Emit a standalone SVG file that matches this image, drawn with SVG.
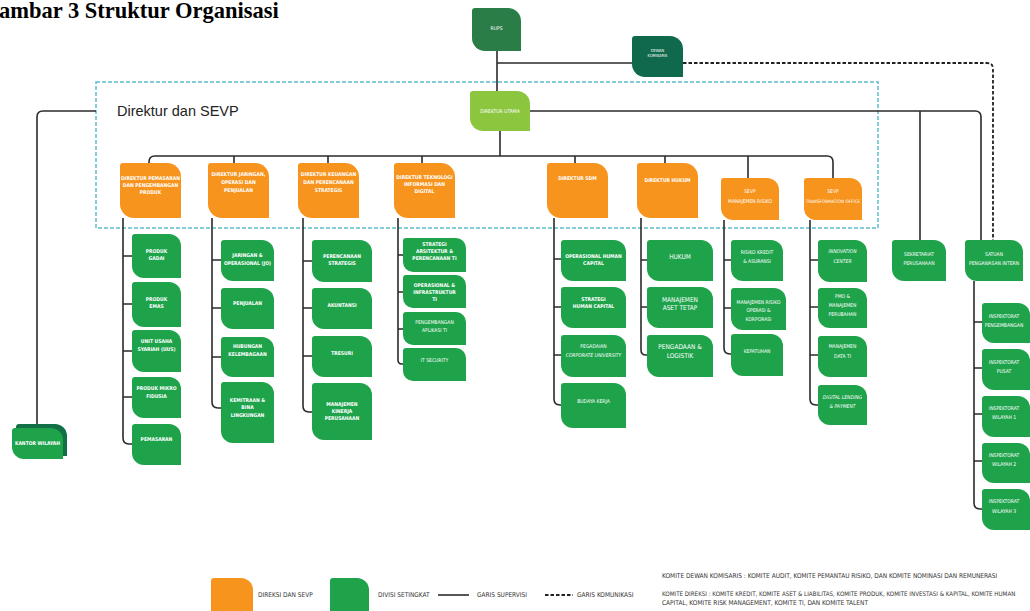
<svg xmlns="http://www.w3.org/2000/svg" width="1030" height="611" viewBox="0 0 1030 611">
<style>
.t{font-family:"Liberation Sans Narrow","DejaVu Sans Condensed","Liberation Sans",sans-serif;font-weight:bold;font-size:5px;fill:#fff;text-anchor:middle}
.n{font-weight:normal}
.i{font-style:italic;font-weight:normal}
.or{fill:#f7941d}
.gr{fill:#1ea34b}
.ln{fill:none;stroke:#2b2b2b;stroke-width:1.6}
.ds{fill:none;stroke:#222;stroke-width:1.8;stroke-dasharray:3.5 2}
.lg{font-family:"Liberation Sans Narrow","DejaVu Sans Condensed","Liberation Sans",sans-serif;font-size:6.5px;fill:#333}
</style>
<rect width="1030" height="611" fill="#fff"/>
<text x="-1" y="18" font-family="Liberation Serif" font-weight="bold" font-size="22.5" fill="#000">ambar 3 Struktur Organisasi</text>
<rect x="96" y="82" width="782" height="146" fill="none" stroke="#5bbccb" stroke-width="1.5" stroke-dasharray="4 2"/>
<text x="117" y="116" font-family="Liberation Sans" font-size="14.5" fill="#222">Direktur dan SEVP</text>

<g id="connectors">
<path class="ln" d="M497,51 V91 M497,63 H632"/>
<path class="ds" d="M683,63 H987 Q993,63 993,69 V240"/>
<path class="ln" d="M530,111 H975 Q981,111 981,117 V240 M920,111 V240"/>
<path class="ln" d="M96,111 H43 Q37,111 37,117 V428"/>
<path class="ln" d="M500,131 V156 M149,163 V162 Q149,156 155,156 H827 Q833,156 833,162 V178 M234,156 V163 M328,156 V163 M422,156 V163 M575,156 V163 M665,156 V163 M748,156 V178"/>
<path class="ln" d="M123,218 V438 Q123,444 129,444 H132 M123,256 H132 M123,304 H132 M123,351 H132 M123,397 H132"/>
<path class="ln" d="M212,218 V402 Q212,408 218,408 H221 M212,260 H221 M212,308 H221 M212,357 H221"/>
<path class="ln" d="M303,218 V406 Q303,412 309,412 H312 M303,261 H312 M303,308 H312 M303,356 H312"/>
<path class="ln" d="M398,218 V360 Q398,364 402,364 H403 M398,255 H403 M398,292 H403 M398,329 H403"/>
<path class="ln" d="M554,218 V399 Q554,405 560,405 H561 M554,259 H561 M554,307 H561 M554,355 H561"/>
<path class="ln" d="M641,218 V350 Q641,355 646,355 H647 M641,260 H647 M641,307 H647"/>
<path class="ln" d="M724,220 V348 Q724,354 730,354 H731 M724,260 H731 M724,308 H731"/>
<path class="ln" d="M810,220 V399 Q810,405 816,405 H818 M810,260 H818 M810,307 H818 M810,355 H818"/>
<path class="ln" d="M974,281 V503 Q974,509 980,509 H982 M974,322 H982 M974,368 H982 M974,414 H982 M974,461 H982"/>
</g>

<g id="rups" transform="translate(472,8)"><path fill="#2b7d47" d="M3,0 H36 A13,13 0 0 1 49,13 V43 H13 A13,13 0 0 1 0,30 V3 Q0,0 3,0 Z"/><text class="t n" x="24.5" y="22" style="font-size:5px">RUPS</text></g>
<g id="dewan-komisaris" transform="translate(632,36)"><path fill="#10684d" d="M3,0 H38 A13,13 0 0 1 51,13 V41 H13 A13,13 0 0 1 0,28 V3 Q0,0 3,0 Z"/><text class="t n" x="25.5" y="16" style="font-size:4px">DEWAN</text><text class="t n" x="25.5" y="21" style="font-size:4px">KOMISARIS</text></g>
<g id="direktur-utama" transform="translate(470,91)"><path fill="#8cc63f" d="M3,0 H47 A13,13 0 0 1 60,13 V40 H13 A13,13 0 0 1 0,27 V3 Q0,0 3,0 Z"/><text class="t n" x="30" y="22">DIREKTUR UTAMA</text></g>

<g id="dir-pemasaran" transform="translate(120,163)"><path class="or" d="M3,0 H47 A14,14 0 0 1 61,14 V55 H14 A14,14 0 0 1 0,41 V3 Q0,0 3,0 Z"/><text class="t" x="30.5" y="17">DIREKTUR PEMASARAN</text><text class="t" x="30.5" y="24">DAN PENGEMBANGAN</text><text class="t" x="30.5" y="31">PRODUK</text></g>
<g id="dir-jaringan" transform="translate(208,163)"><path class="or" d="M3,0 H47 A14,14 0 0 1 61,14 V55 H14 A14,14 0 0 1 0,41 V3 Q0,0 3,0 Z"/><text class="t" x="30.5" y="13">DIREKTUR JARINGAN,</text><text class="t" x="30.5" y="21">OPERASI DAN</text><text class="t" x="30.5" y="29">PENJUALAN</text></g>
<g id="dir-keuangan" transform="translate(298,163)"><path class="or" d="M3,0 H47 A14,14 0 0 1 61,14 V55 H14 A14,14 0 0 1 0,41 V3 Q0,0 3,0 Z"/><text class="t" x="30.5" y="13">DIREKTUR KEUANGAN</text><text class="t" x="30.5" y="21">DAN PERENCANAAN</text><text class="t" x="30.5" y="29">STRATEGIS</text></g>
<g id="dir-ti" transform="translate(394,163)"><path class="or" d="M3,0 H47 A14,14 0 0 1 61,14 V55 H14 A14,14 0 0 1 0,41 V3 Q0,0 3,0 Z"/><text class="t" x="30.5" y="16">DIREKTUR TEKNOLOGI</text><text class="t" x="30.5" y="23">INFORMASI DAN</text><text class="t" x="30.5" y="30">DIGITAL</text></g>
<g id="dir-sdm" transform="translate(547,163)"><path class="or" d="M3,0 H47 A14,14 0 0 1 61,14 V55 H14 A14,14 0 0 1 0,41 V3 Q0,0 3,0 Z"/><text class="t" x="30.5" y="17">DIREKTUR SDM</text></g>
<g id="dir-hukum" transform="translate(637,163)"><path class="or" d="M3,0 H47 A14,14 0 0 1 61,14 V55 H14 A14,14 0 0 1 0,41 V3 Q0,0 3,0 Z"/><text class="t" x="30.5" y="19">DIREKTUR HUKUM</text></g>
<g id="sevp-mr" transform="translate(721,178)"><path class="or" d="M3,0 H46 A12,12 0 0 1 58,12 V42 H12 A12,12 0 0 1 0,30 V3 Q0,0 3,0 Z"/><text class="t n" x="29" y="15">SEVP</text><text class="t n" x="29" y="25">MANAJEMEN RISIKO</text></g>
<g id="sevp-to" transform="translate(804,178)"><path class="or" d="M3,0 H46 A12,12 0 0 1 58,12 V42 H12 A12,12 0 0 1 0,30 V3 Q0,0 3,0 Z"/><text class="t n" x="29" y="15">SEVP</text><text class="t n" x="29" y="25" style="font-size:4.6px">TRANSFORMATION OFFICE</text></g>

<g id="produk-gadai" transform="translate(132,234)"><path class="gr" d="M3,0 H37 A12,12 0 0 1 49,12 V44 H12 A12,12 0 0 1 0,32 V3 Q0,0 3,0 Z"/><text class="t" x="24.5" y="19">PRODUK</text><text class="t" x="24.5" y="26">GADAI</text></g>
<g id="produk-emas" transform="translate(132,282)"><path class="gr" d="M3,0 H37 A12,12 0 0 1 49,12 V45 H12 A12,12 0 0 1 0,33 V3 Q0,0 3,0 Z"/><text class="t" x="24.5" y="19">PRODUK</text><text class="t" x="24.5" y="26">EMAS</text></g>
<g id="uus" transform="translate(132,330)"><path class="gr" d="M3,0 H37 A12,12 0 0 1 49,12 V42 H12 A12,12 0 0 1 0,30 V3 Q0,0 3,0 Z"/><text class="t" x="24.5" y="13">UNIT USAHA</text><text class="t" x="24.5" y="21">SYARIAH (UUS)</text></g>
<g id="mikro-fidusia" transform="translate(132,377)"><path class="gr" d="M3,0 H37 A12,12 0 0 1 49,12 V41 H12 A12,12 0 0 1 0,29 V3 Q0,0 3,0 Z"/><text class="t" x="24.5" y="13">PRODUK MIKRO</text><text class="t" x="24.5" y="21">FIDUSIA</text></g>
<g id="pemasaran" transform="translate(132,424)"><path class="gr" d="M3,0 H37 A12,12 0 0 1 49,12 V41 H12 A12,12 0 0 1 0,29 V3 Q0,0 3,0 Z"/><text class="t" x="24.5" y="17">PEMASARAN</text></g>

<g id="jaringan-jo" transform="translate(221,240)"><path class="gr" d="M3,0 H41 A12,12 0 0 1 53,12 V41 H12 A12,12 0 0 1 0,29 V3 Q0,0 3,0 Z"/><text class="t" x="26.5" y="17">JARINGAN &amp;</text><text class="t" x="26.5" y="25">OPERASIONAL (JO)</text></g>
<g id="penjualan" transform="translate(221,288)"><path class="gr" d="M3,0 H41 A12,12 0 0 1 53,12 V41 H12 A12,12 0 0 1 0,29 V3 Q0,0 3,0 Z"/><text class="t" x="26.5" y="17">PENJUALAN</text></g>
<g id="hub-kelembagaan" transform="translate(221,337)"><path class="gr" d="M3,0 H41 A12,12 0 0 1 53,12 V40 H12 A12,12 0 0 1 0,28 V3 Q0,0 3,0 Z"/><text class="t" x="26.5" y="11">HUBUNGAN</text><text class="t" x="26.5" y="19">KELEMBAGAAN</text></g>
<g id="kemitraan" transform="translate(221,382)"><path class="gr" d="M3,0 H41 A12,12 0 0 1 53,12 V61 H12 A12,12 0 0 1 0,49 V3 Q0,0 3,0 Z"/><text class="t" x="26.5" y="20">KEMITRAAN &amp;</text><text class="t" x="26.5" y="27">BINA</text><text class="t" x="26.5" y="35">LINGKUNGAN</text></g>

<g id="perencanaan-strategis" transform="translate(312,240)"><path class="gr" d="M3,0 H48 A12,12 0 0 1 60,12 V42 H12 A12,12 0 0 1 0,30 V3 Q0,0 3,0 Z"/><text class="t" x="30" y="18">PERENCANAAN</text><text class="t" x="30" y="25">STRATEGIS</text></g>
<g id="akuntansi" transform="translate(312,288)"><path class="gr" d="M3,0 H48 A12,12 0 0 1 60,12 V41 H12 A12,12 0 0 1 0,29 V3 Q0,0 3,0 Z"/><text class="t" x="30" y="19">AKUNTANSI</text></g>
<g id="tresuri" transform="translate(312,336)"><path class="gr" d="M3,0 H48 A12,12 0 0 1 60,12 V41 H12 A12,12 0 0 1 0,29 V3 Q0,0 3,0 Z"/><text class="t" x="30" y="19">TRESURI</text></g>
<g id="kinerja" transform="translate(312,383)"><path class="gr" d="M3,0 H48 A12,12 0 0 1 60,12 V57 H12 A12,12 0 0 1 0,45 V3 Q0,0 3,0 Z"/><text class="t" x="30" y="23">MANAJEMEN</text><text class="t" x="30" y="30">KINERJA</text><text class="t" x="30" y="37">PERUSAHAAN</text></g>

<g id="arsitektur-ti" transform="translate(403,238)"><path class="gr" d="M3,0 H53 A10,10 0 0 1 63,10 V34 H10 A10,10 0 0 1 0,24 V3 Q0,0 3,0 Z"/><text class="t" x="31.5" y="8">STRATEGI</text><text class="t" x="31.5" y="15">ARSITEKTUR &amp;</text><text class="t" x="31.5" y="22">PERENCANAAN TI</text></g>
<g id="infrastruktur-ti" transform="translate(403,275)"><path class="gr" d="M3,0 H53 A10,10 0 0 1 63,10 V33 H10 A10,10 0 0 1 0,23 V3 Q0,0 3,0 Z"/><text class="t" x="31.5" y="12">OPERASIONAL &amp;</text><text class="t" x="31.5" y="19">INFRASTRUKTUR</text><text class="t" x="31.5" y="26">TI</text></g>
<g id="aplikasi-ti" transform="translate(403,312)"><path class="gr" d="M3,0 H53 A10,10 0 0 1 63,10 V33 H10 A10,10 0 0 1 0,23 V3 Q0,0 3,0 Z"/><text class="t n" x="31.5" y="12">PENGEMBANGAN</text><text class="t n" x="31.5" y="20">APLIKASI TI</text></g>
<g id="it-security" transform="translate(403,348)"><path class="gr" d="M3,0 H53 A10,10 0 0 1 63,10 V33 H10 A10,10 0 0 1 0,23 V3 Q0,0 3,0 Z"/><text class="t n" x="31.5" y="14">IT SECURITY</text></g>

<g id="ops-hc" transform="translate(561,240)"><path class="gr" d="M3,0 H53 A12,12 0 0 1 65,12 V41 H12 A12,12 0 0 1 0,29 V3 Q0,0 3,0 Z"/><text class="t" x="32.5" y="18">OPERASIONAL HUMAN</text><text class="t" x="32.5" y="25">CAPITAL</text></g>
<g id="strategi-hc" transform="translate(561,287)"><path class="gr" d="M3,0 H53 A12,12 0 0 1 65,12 V41 H12 A12,12 0 0 1 0,29 V3 Q0,0 3,0 Z"/><text class="t" x="32.5" y="14">STRATEGI</text><text class="t" x="32.5" y="21">HUMAN CAPITAL</text></g>
<g id="corp-univ" transform="translate(561,335)"><path class="gr" d="M3,0 H53 A12,12 0 0 1 65,12 V42 H12 A12,12 0 0 1 0,30 V3 Q0,0 3,0 Z"/><text class="t n" x="32.5" y="13">PEGADAIAN</text><text class="t i" x="32.5" y="22">CORPORATE UNIVERSITY</text></g>
<g id="budaya-kerja" transform="translate(561,383)"><path class="gr" d="M3,0 H53 A12,12 0 0 1 65,12 V45 H12 A12,12 0 0 1 0,33 V3 Q0,0 3,0 Z"/><text class="t n" x="32.5" y="20">BUDAYA KERJA</text></g>

<g id="hukum" transform="translate(647,240)"><path class="gr" d="M3,0 H54 A12,12 0 0 1 66,12 V41 H12 A12,12 0 0 1 0,29 V3 Q0,0 3,0 Z"/><text class="t n" x="33" y="19" style="font-size:6.5px">HUKUM</text></g>
<g id="aset-tetap" transform="translate(647,287)"><path class="gr" d="M3,0 H54 A12,12 0 0 1 66,12 V41 H12 A12,12 0 0 1 0,29 V3 Q0,0 3,0 Z"/><text class="t n" x="33" y="15" style="font-size:6.5px">MANAJEMEN</text><text class="t n" x="33" y="23" style="font-size:6.5px">ASET TETAP</text></g>
<g id="pengadaan" transform="translate(647,335)"><path class="gr" d="M3,0 H54 A12,12 0 0 1 66,12 V42 H12 A12,12 0 0 1 0,30 V3 Q0,0 3,0 Z"/><text class="t n" x="33" y="14" style="font-size:6.5px">PENGADAAN &amp;</text><text class="t n" x="33" y="23" style="font-size:6.5px">LOGISTIK</text></g>

<g id="risiko-kredit" transform="translate(731,240)"><path class="gr" d="M3,0 H40 A12,12 0 0 1 52,12 V41 H12 A12,12 0 0 1 0,29 V3 Q0,0 3,0 Z"/><text class="t n" x="26" y="14">RISIKO KREDIT</text><text class="t n" x="26" y="23">&amp; ASURANSI</text></g>
<g id="risiko-operasi" transform="translate(731,288)"><path class="gr" d="M3,0 H43 A12,12 0 0 1 55,12 V42 H12 A12,12 0 0 1 0,30 V3 Q0,0 3,0 Z"/><text class="t n" x="27.5" y="16">MANAJEMEN RISIKO</text><text class="t n" x="27.5" y="24">OPERASI &amp;</text><text class="t n" x="27.5" y="33">KORPORASI</text></g>
<g id="kepatuhan" transform="translate(731,334)"><path class="gr" d="M3,0 H40 A12,12 0 0 1 52,12 V42 H12 A12,12 0 0 1 0,30 V3 Q0,0 3,0 Z"/><text class="t n" x="26" y="19">KEPATUHAN</text></g>

<g id="innovation-center" transform="translate(818,240)"><path class="gr" d="M3,0 H37 A12,12 0 0 1 49,12 V42 H12 A12,12 0 0 1 0,30 V3 Q0,0 3,0 Z"/><text class="t i" x="24.5" y="13">INNOVATION</text><text class="t i" x="24.5" y="23">CENTER</text></g>
<g id="pmo" transform="translate(818,288)"><path class="gr" d="M3,0 H37 A12,12 0 0 1 49,12 V40 H12 A12,12 0 0 1 0,28 V3 Q0,0 3,0 Z"/><text class="t n" x="24.5" y="10">PMO &amp;</text><text class="t n" x="24.5" y="19">MANAJEMEN</text><text class="t n" x="24.5" y="28">PERUBAHAN</text></g>
<g id="data-ti" transform="translate(818,336)"><path class="gr" d="M3,0 H37 A12,12 0 0 1 49,12 V41 H12 A12,12 0 0 1 0,29 V3 Q0,0 3,0 Z"/><text class="t n" x="24.5" y="12">MANAJEMEN</text><text class="t n" x="24.5" y="22">DATA TI</text></g>
<g id="digital-lending" transform="translate(818,385)"><path class="gr" d="M3,0 H37 A12,12 0 0 1 49,12 V40 H12 A12,12 0 0 1 0,28 V3 Q0,0 3,0 Z"/><text class="t i" x="24.5" y="14">DIGITAL LENDING</text><text class="t i" x="24.5" y="23">&amp; PAYMENT</text></g>

<g id="sekretariat" transform="translate(892,240)"><path class="gr" d="M3,0 H42 A12,12 0 0 1 54,12 V41 H12 A12,12 0 0 1 0,29 V3 Q0,0 3,0 Z"/><text class="t n" x="27" y="16">SEKRETARIAT</text><text class="t n" x="27" y="25">PERUSAHAAN</text></g>
<g id="spi" transform="translate(965,240)"><path class="gr" d="M3,0 H46 A12,12 0 0 1 58,12 V41 H12 A12,12 0 0 1 0,29 V3 Q0,0 3,0 Z"/><text class="t n" x="29" y="16">SATUAN</text><text class="t n" x="29" y="25">PENGAWASAN INTERN</text></g>
<g id="insp-pengembangan" transform="translate(982,303)"><path class="gr" d="M3,0 H36 A12,12 0 0 1 48,12 V40 H12 A12,12 0 0 1 0,28 V3 Q0,0 3,0 Z"/><text class="t n" x="22" y="15">INSPEKTORAT</text><text class="t n" x="22" y="24">PENGEMBANGAN</text></g>
<g id="insp-pusat" transform="translate(982,349)"><path class="gr" d="M3,0 H36 A12,12 0 0 1 48,12 V41 H12 A12,12 0 0 1 0,29 V3 Q0,0 3,0 Z"/><text class="t n" x="22" y="15">INSPEKTORAT</text><text class="t n" x="22" y="24">PUSAT</text></g>
<g id="insp-wilayah-1" transform="translate(982,396)"><path class="gr" d="M3,0 H36 A12,12 0 0 1 48,12 V41 H12 A12,12 0 0 1 0,29 V3 Q0,0 3,0 Z"/><text class="t n" x="22" y="14">INSPEKTORAT</text><text class="t n" x="22" y="23">WILAYAH 1</text></g>
<g id="insp-wilayah-2" transform="translate(982,443)"><path class="gr" d="M3,0 H36 A12,12 0 0 1 48,12 V40 H12 A12,12 0 0 1 0,28 V3 Q0,0 3,0 Z"/><text class="t n" x="22" y="14">INSPEKTORAT</text><text class="t n" x="22" y="23">WILAYAH 2</text></g>
<g id="insp-wilayah-3" transform="translate(982,489)"><path class="gr" d="M3,0 H36 A12,12 0 0 1 48,12 V41 H12 A12,12 0 0 1 0,29 V3 Q0,0 3,0 Z"/><text class="t n" x="22" y="14">INSPEKTORAT</text><text class="t n" x="22" y="24">WILAYAH 3</text></g>

<g id="kantor-wilayah"><path fill="#137046" d="M19,424 H55 A12,12 0 0 1 67,436 V456 H28 A12,12 0 0 1 16,444 V427 Q16,424 19,424 Z"/><path class="gr" transform="translate(12,428)" d="M3,0 H39 A12,12 0 0 1 51,12 V31 H12 A12,12 0 0 1 0,19 V3 Q0,0 3,0 Z"/><text class="t" x="37.5" y="445">KANTOR WILAYAH</text></g>

<g id="legend">
<path class="or" d="M214,578 H241 A12,12 0 0 1 253,590 V611 H211 V581 Q211,578 214,578 Z"/>
<text class="lg" x="258" y="597">DIREKSI DAN SEVP</text>
<path class="gr" d="M333,578 H357 A12,12 0 0 1 369,590 V611 H330 V581 Q330,578 333,578 Z"/>
<text class="lg" x="378" y="597">DIVISI SETINGKAT</text>
<path class="ln" d="M438,595 H469"/>
<text class="lg" x="477" y="597">GARIS SUPERVISI</text>
<path class="ds" d="M545,595 H573"/>
<text class="lg" x="577" y="597">GARIS KOMUNIKASI</text>
<text class="lg" x="662" y="578">KOMITE DEWAN KOMISARIS : KOMITE AUDIT, KOMITE PEMANTAU RISIKO, DAN KOMITE NOMINASI DAN   REMUNERASI</text>
<text class="lg" x="662" y="596" style="font-size:6.2px">KOMITE DIREKSI : KOMITE KREDIT, KOMITE ASET &amp; LIABILITAS, KOMITE PRODUK, KOMITE INVESTASI &amp; KAPITAL, KOMITE HUMAN</text>
<text class="lg" x="662" y="605">CAPITAL, KOMITE RISK MANAGEMENT, KOMITE TI, DAN KOMITE TALENT</text>
</g>
</svg>
